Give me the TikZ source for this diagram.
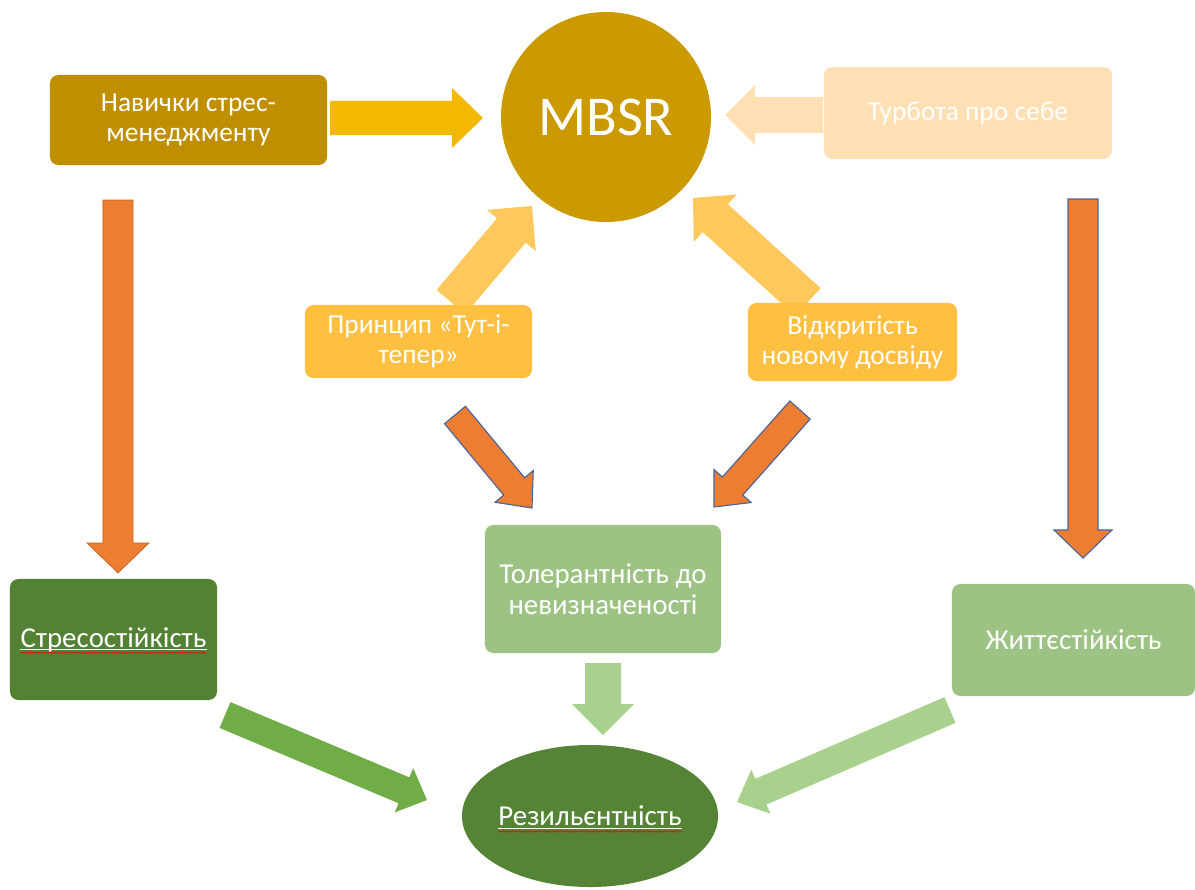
\documentclass[tikz,border=0pt]{standalone}
\usepackage{fontspec}
\setmainfont{Carlito}
\usetikzlibrary{calc, positioning, shapes.geometric, decorations.pathmorphing}
\definecolor{skillgold}{RGB}{191,143,0}
\definecolor{mbsrgold}{RGB}{202,154,0}
\definecolor{arrowgold}{RGB}{242,185,0}
\definecolor{peach}{RGB}{255,224,181}
\definecolor{amber}{RGB}{255,191,64}
\definecolor{lightamber}{RGB}{255,200,92}
\definecolor{burnt}{RGB}{237,125,49}
\definecolor{slateblue}{RGB}{72,100,160}
\definecolor{darkgreen}{RGB}{84,130,53}
\definecolor{midgreen}{RGB}{112,173,71}
\definecolor{sagegreen}{RGB}{157,195,132}
\definecolor{palegreen}{RGB}{169,209,142}
\tikzset{
  box/.style={
    rectangle,
    rounded corners=6pt,
    inner sep=0pt,
    align=center,
    text=white,
    font=\fontsize{19.5}{21.5}\selectfont
  },
  boxtext/.style={
    inner sep=0pt,
    text=white,
    font=\fontsize{20.5}{23}\selectfont
  },
  squiggle/.style={
    draw=red,
    line width=0.5pt,
    decorate,
    decoration={snake, amplitude=0.5pt, segment length=2.4pt}
  },
  orangearrow/.style={fill=burnt, draw=slateblue, line width=0.8pt}
}
% block arrow: [style]{from}{to}{half shaft}{half head}{head length}
\newcommand{\bigarrow}[6][]{%
  \coordinate (hb) at ($(#3)!#6!(#2)$);
  \path[#1] ($(#2)!#4!90:(#3)$) -- ($(hb)!#4!90:(#3)$) -- ($(hb)!#5!90:(#3)$) -- (#3)
    -- ($(hb)!#5!-90:(#3)$) -- ($(hb)!#4!-90:(#3)$) -- ($(#2)!#4!-90:(#3)$) -- cycle;
}

\begin{document}
\begin{tikzpicture}[x=0.025cm, y=-0.025cm]
  \useasboundingbox (0,0) rectangle (1195,889);

  \coordinate (skills-r) at (330,118);  \coordinate (mbsr-l) at (483,118);
  \coordinate (care-l) at (823,115);    \coordinate (mbsr-r) at (725,115);
  \coordinate (skills-b) at (118,200);  \coordinate (stress-t) at (118,573);
  \coordinate (care-b) at (1083,199);   \coordinate (life-t) at (1083,558);
  \coordinate (here-t) at (451,302);    \coordinate (mbsr-bl) at (532,206);
  \coordinate (open-t) at (808,302);    \coordinate (mbsr-br) at (693,198);
  \coordinate (here-b) at (455,415);    \coordinate (toler-tl) at (532,508);
  \coordinate (open-b) at (800,410);    \coordinate (toler-tr) at (714,507);
  \coordinate (stress-br) at (225,715); \coordinate (resil-l) at (427,800);
  \coordinate (toler-b) at (603,663);   \coordinate (resil-t) at (603,735);
  \coordinate (life-bl) at (950,710);   \coordinate (resil-r) at (737,802);

  \bigarrow[fill=arrowgold]{skills-r}{mbsr-l}{0.425cm}{0.75cm}{0.775cm}
  \bigarrow[fill=peach]{care-l}{mbsr-r}{0.45cm}{0.75cm}{0.75cm}
  \bigarrow[fill=burnt, draw=burnt!80!black, line width=0.5pt]{skills-b}{stress-t}{0.375cm}{0.775cm}{0.75cm}
  \bigarrow[orangearrow]{care-b}{life-t}{0.375cm}{0.725cm}{0.7cm}
  \bigarrow[fill=lightamber]{here-t}{mbsr-bl}{0.47cm}{0.8cm}{0.8cm}
  \bigarrow[fill=lightamber]{open-t}{mbsr-br}{0.47cm}{0.8cm}{0.75cm}
  \bigarrow[orangearrow]{here-b}{toler-tl}{0.34cm}{0.62cm}{0.7cm}
  \bigarrow[orangearrow]{open-b}{toler-tr}{0.34cm}{0.62cm}{0.7cm}
  \bigarrow[fill=midgreen]{stress-br}{resil-l}{0.35cm}{0.6cm}{0.625cm}
  \bigarrow[fill=palegreen]{toler-b}{resil-t}{0.45cm}{0.775cm}{0.775cm}
  \bigarrow[fill=palegreen]{life-bl}{resil-r}{0.35cm}{0.6cm}{0.65cm}

  \node[circle, fill=mbsrgold, minimum size=5.25cm, inner sep=0pt, text=white,
        font=\fontsize{40}{48}\selectfont] (mbsr) at (606,117) {MBSR};
  \node[box, fill=skillgold, minimum width=6.925cm, minimum height=2.25cm] (skills) at (188.5,120)
    {Навички стрес-\\менеджменту};
  \node[box, fill=peach, minimum width=7.2cm, minimum height=2.3cm] (care) at (968,113)
    {Турбота про себе};
  \node[box, fill=amber, minimum width=5.675cm, minimum height=1.825cm] (here) at (418.5,341.5)
    {Принцип «Тут-і-\\тепер»};
  \node[box, fill=amber, minimum width=5.225cm, minimum height=1.95cm] (open) at (852.5,342)
    {Відкритість\\новому досвіду};
  \node[box, fill=sagegreen, minimum width=5.9cm, minimum height=3.2cm,
        font=\fontsize{20.5}{22}\selectfont] (toler) at (603,589)
    {Толерантність до\\невизначеності};
  \node[box, fill=sagegreen, minimum width=6.075cm, minimum height=2.8cm,
        font=\fontsize{20.5}{23}\selectfont] (life) at (1073.5,640) {Життєстійкість};
  \node[box, fill=darkgreen, minimum width=5.175cm, minimum height=3.025cm] (stress) at (113.5,639.5) {};
  \node[ellipse, fill=darkgreen!96!midgreen, minimum width=6.4cm, minimum height=3.55cm,
        inner sep=0pt] (resil) at (590,816) {};

  \node[boxtext] (stress-lbl) at (stress) {Стресостійкість};
  \node[boxtext] (resil-lbl) at (resil) {Резильєнтність};
  \foreach \lbl in {stress-lbl, resil-lbl} {
    \draw[white, line width=0.6pt] ([yshift=-2pt]\lbl.base west) -- ([yshift=-2pt]\lbl.base east);
    \draw[squiggle] ([yshift=-4pt]\lbl.base west) -- ([yshift=-4pt]\lbl.base east);
  }
\end{tikzpicture}
\end{document}
